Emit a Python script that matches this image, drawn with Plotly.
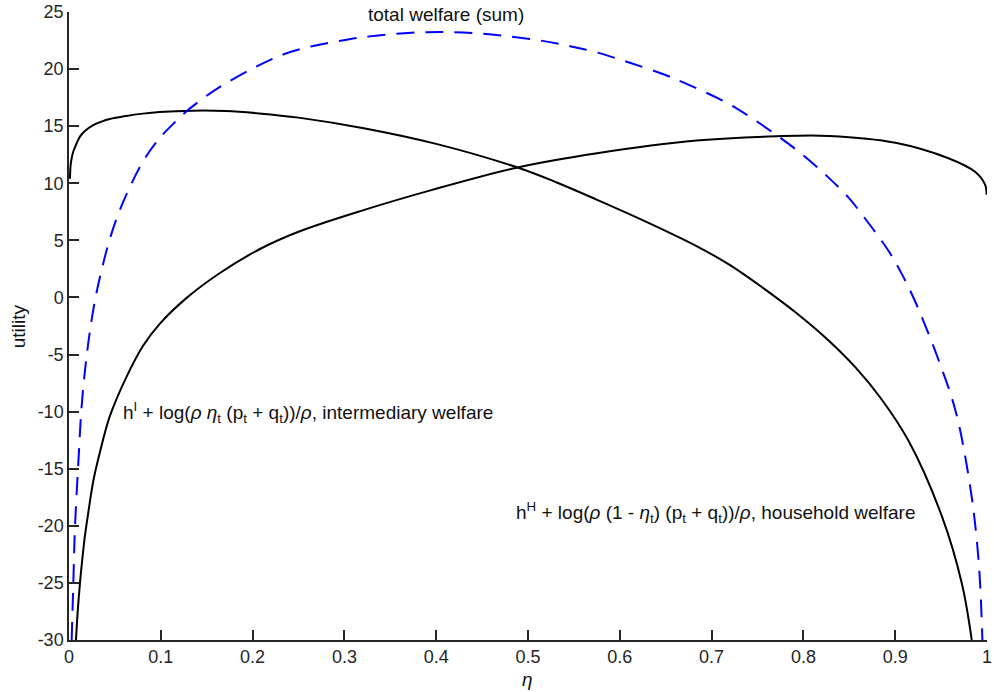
import plotly.graph_objects as go

# intermediary welfare (black)
eta_int = [0.001, 0.0018, 0.0029, 0.0047, 0.0083, 0.0119, 0.0173, 0.0264, 0.0354, 0.0444,
           0.0625, 0.0805, 0.0986, 0.1347, 0.171, 0.207, 0.25, 0.3225, 0.4, 0.4886,
           0.532, 0.5753, 0.6295, 0.6836, 0.7197, 0.7559, 0.792, 0.828, 0.857, 0.8845,
           0.9148, 0.951, 0.9726, 0.9834]
u_int = [10.4, 11.62, 12.19, 12.78, 13.5, 14.09, 14.58, 15.1, 15.4, 15.63,
         15.9, 16.1, 16.24, 16.36, 16.33, 16.12, 15.75, 14.8, 13.45, 11.38,
         10.05, 8.55, 6.6, 4.5, 2.85, 0.84, -1.34, -3.81, -6.15, -8.85,
         -12.6, -19.2, -25.05, -30.0]

# household welfare (black)
eta_hh = [0.0076, 0.0094, 0.0119, 0.0144, 0.0173, 0.0209, 0.0264, 0.0336, 0.0444, 0.0625,
          0.0805, 0.0986, 0.1275, 0.1636, 0.207, 0.25, 0.3225, 0.3947, 0.4886, 0.5753,
          0.6836, 0.7703, 0.828, 0.9003, 0.958, 0.987, 0.9978, 0.9996]
u_hh = [-30.0, -27.6, -25.05, -23.0, -20.9, -18.9, -16.1, -13.58, -10.42, -6.98,
        -4.25, -2.33, -0.08, 2.1, 4.2, 5.75, 7.69, 9.4, 11.38, 12.63,
        13.74, 14.12, 14.15, 13.55, 12.19, 11.0, 9.9, 9.0]

# total welfare (sum, blue dashed)
eta_tot = [0.0029, 0.0047, 0.0065, 0.0101, 0.0137, 0.0191, 0.0264, 0.0336, 0.0444, 0.0534,
           0.0625, 0.0805, 0.0986, 0.113, 0.1275, 0.1455, 0.1636, 0.2, 0.234, 0.2647,
           0.3009, 0.3225, 0.373, 0.409, 0.445, 0.481, 0.5175, 0.546, 0.5753, 0.611,
           0.6476, 0.6728, 0.7143, 0.7414, 0.7703, 0.7992, 0.828, 0.8497, 0.864, 0.893,
           0.9076, 0.922, 0.9364, 0.951, 0.9617, 0.969, 0.9762, 0.9834, 0.987, 0.9906,
           0.9928, 0.995]
u_tot = [-30.0, -25.05, -20.1, -14.6, -9.6, -5.2, -1.1, 1.75, 5.1, 7.25,
         9.0, 11.9, 13.94, 15.16, 16.27, 17.4, 18.4, 20.05, 21.3, 22.0,
         22.55, 22.82, 23.18, 23.25, 23.14, 22.85, 22.45, 22.0, 21.45, 20.55,
         19.55, 18.7, 17.14, 15.83, 14.24, 12.49, 10.45, 8.7, 7.25, 4.05,
         2.0, -0.4, -3.2, -6.3, -8.8, -11.0, -13.9, -17.5, -19.8, -22.8,
         -25.5, -30.0]

x_ticks = [0, 0.1, 0.2, 0.3, 0.4, 0.5, 0.6, 0.7, 0.8, 0.9, 1]
x_tick_labels = ["0", "0.1", "0.2", "0.3", "0.4", "0.5", "0.6", "0.7", "0.8", "0.9", "1"]
y_ticks = [-30, -25, -20, -15, -10, -5, 0, 5, 10, 15, 20, 25]
y_tick_labels = ["-30", "-25", "-20", "-15", "-10", "-5", "0", "5", "10", "15", "20", "25"]

FONT = "Liberation Sans, Arial, Helvetica, sans-serif"
AX = "#262626"
TXT = "#111111"

fig = go.Figure()
fig.add_trace(go.Scatter(x=eta_int, y=u_int, mode="lines",
                         line=dict(color="black", width=2, shape="spline", smoothing=1.0)))
fig.add_trace(go.Scatter(x=eta_hh, y=u_hh, mode="lines",
                         line=dict(color="black", width=2, shape="spline", smoothing=1.0)))
fig.add_trace(go.Scatter(x=eta_tot, y=u_tot, mode="lines",
                         line=dict(color="#0000ff", width=2, dash="18px,11px", shape="spline", smoothing=1.0)))

fig.add_annotation(x=0.411, y=24.74, text="total welfare (sum)", showarrow=False,
                   xanchor="center", yanchor="middle", font=dict(size=19, color=TXT))
fig.add_annotation(x=0.057, y=-10.1,
                   text="h<sup>I</sup> + log(<i>ρ</i> <i>η</i><sub>t</sub> (p<sub>t</sub> + q<sub>t</sub>))/<i>ρ</i>, intermediary welfare",
                   showarrow=False, xanchor="left", yanchor="middle", font=dict(size=19, color=TXT))
fig.add_annotation(x=0.485, y=-18.83,
                   text="h<sup>H</sup> + log(<i>ρ</i> (1 - <i>η</i><sub>t</sub>) (p<sub>t</sub> + q<sub>t</sub>))/<i>ρ</i>, household welfare",
                   showarrow=False, xanchor="left", yanchor="middle", font=dict(size=19, color=TXT))

# axis titles
fig.add_annotation(xref="paper", yref="paper", x=(18 - 69) / 923, y=(640 - 325) / 630,
                   text="utility", textangle=-90, showarrow=False,
                   xanchor="center", yanchor="middle", font=dict(size=19, color=TXT))
fig.add_annotation(xref="paper", yref="paper", x=(530 - 69) / 923, y=-(680 - 640) / 630,
                   text="<i>η</i>", showarrow=False,
                   xanchor="center", yanchor="middle", font=dict(size=19, color=TXT))

axis_common = dict(ticks="inside", ticklen=10, tickwidth=1.5, tickcolor=AX,
                   showline=True, linecolor=AX, linewidth=1.5,
                   showgrid=False, zeroline=False, mirror=False,
                   layer="above traces", ticklabeloverflow="allow",
                   tickfont=dict(size=18, color=AX))

fig.update_layout(
    width=994, height=692,
    margin=dict(l=69, r=2, t=10, b=52),
    paper_bgcolor="white", plot_bgcolor="white",
    showlegend=False,
    font=dict(family=FONT, size=18, color=AX),
    xaxis=dict(range=[0, 1], tickvals=x_ticks, ticktext=x_tick_labels, **axis_common),
    yaxis=dict(range=[-30, 25], tickvals=y_ticks, ticktext=y_tick_labels, **axis_common),
)

fig.write_html("out.html")
